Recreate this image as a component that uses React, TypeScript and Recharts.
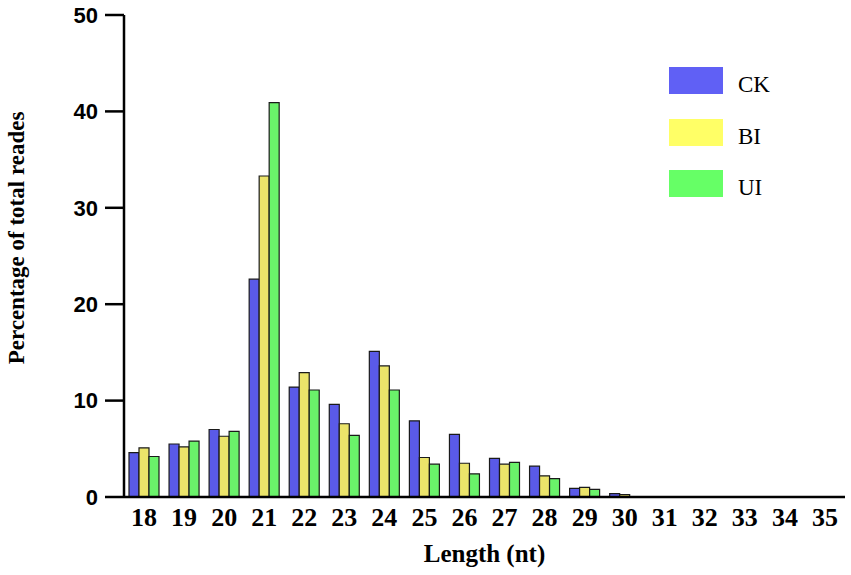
import React from 'react';
import { BarChart, Bar, XAxis, YAxis, Label } from 'recharts';

// read lengths (nt)
const lengths = ['18', '19', '20', '21', '22', '23', '24', '25', '26', '27', '28', '29', '30', '31', '32', '33', '34', '35'];

// percentage of total reads per group
const ck = [4.6, 5.5, 7.0, 22.6, 11.4, 9.6, 15.1, 7.9, 6.5, 4.0, 3.2, 0.9, 0.35, 0, 0, 0, 0, 0];
const bi = [5.1, 5.2, 6.3, 33.3, 12.9, 7.6, 13.6, 4.1, 3.5, 3.4, 2.2, 1.0, 0.25, 0, 0, 0, 0, 0];
const ui = [4.2, 5.8, 6.8, 40.9, 11.1, 6.4, 11.1, 3.4, 2.4, 3.6, 1.9, 0.8, 0, 0, 0, 0, 0, 0];

const yTicks = [0, 10, 20, 30, 40, 50];

const series = [
  { key: 'CK', fill: '#5a5ae8', legend: '#6060f5' },
  { key: 'BI', fill: '#ebe46a', legend: '#ffff66' },
  { key: 'UI', fill: '#6af26a', legend: '#66ff66' },
];

const data = lengths.map((len, i) => ({ len, CK: ck[i], BI: bi[i], UI: ui[i] }));

const serif = '"Liberation Serif", "Times New Roman", serif';
const sans = '"Liberation Sans", Arial, sans-serif';

// legend drawn as plain html on top of the chart, so it takes no room from the plot
const CustomLegend = () => (
  <div style={{ position: 'absolute', top: 67, left: 669, fontFamily: serif }}>
    {series.map((s) => (
      <div key={s.key} style={{ display: 'flex', alignItems: 'flex-start', height: 27, marginBottom: 24.5 }}>
        <div style={{ width: 54, height: 27, backgroundColor: s.legend }} />
        <span style={{ marginLeft: 15, fontSize: 23, lineHeight: '27px', paddingTop: 4, color: '#000' }}>{s.key}</span>
      </div>
    ))}
  </div>
);

const YTitle = () => (
  <text
    transform="translate(24,238) rotate(-90)"
    textAnchor="middle"
    fontFamily={serif}
    fontWeight="bold"
    fontSize={23}
    fill="#000"
  >
    Percentage of total reades
  </text>
);

export default function App() {
  return (
    <div style={{ position: 'absolute', top: 0, left: 0, width: 851, height: 575, background: '#fff' }}>
      <BarChart
        width={851}
        height={575}
        data={data}
        margin={{ top: 15, right: 6, bottom: 0, left: 0 }}
        barGap={0}
        barCategoryGap={5}
      >
        <XAxis
          dataKey="len"
          height={78}
          axisLine={{ stroke: '#000', strokeWidth: 2.5 }}
          tickLine={false}
          tickSize={0}
          tickMargin={11}
          interval={0}
          tick={{ fill: '#000', fontFamily: serif, fontWeight: 'bold', fontSize: 26 }}
        >
          <Label
            value="Length (nt)"
            position="insideBottom"
            offset={13}
            fill="#000"
            fontFamily={serif}
            fontWeight="bold"
            fontSize={25}
          />
        </XAxis>
        <YAxis
          width={124}
          domain={[0, 50]}
          ticks={yTicks}
          interval={0}
          axisLine={{ stroke: '#000', strokeWidth: 2.5 }}
          tickLine={{ stroke: '#000', strokeWidth: 2.5 }}
          tickSize={19}
          tickMargin={7}
          tick={{ fill: '#000', fontFamily: sans, fontWeight: 'bold', fontSize: 22 }}
          label={<YTitle />}
        />
        {series.map((s) => (
          <Bar
            key={s.key}
            dataKey={s.key}
            fill={s.fill}
            stroke="#1a1a1a"
            strokeWidth={1.2}
            isAnimationActive={false}
          />
        ))}
      </BarChart>
      <CustomLegend />
    </div>
  );
}
